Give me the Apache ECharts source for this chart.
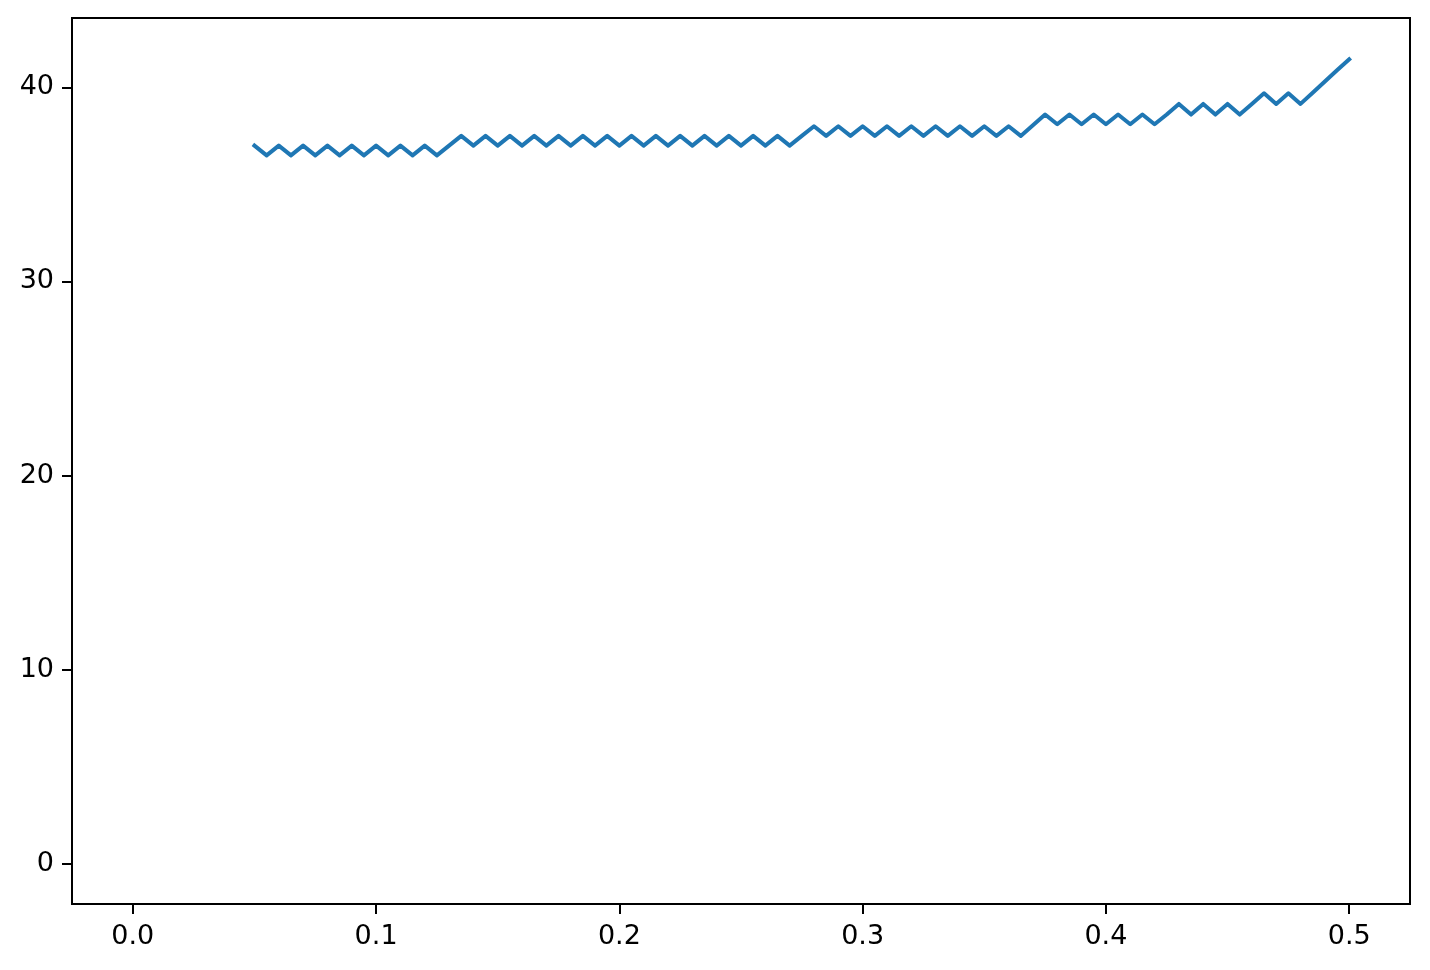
<!DOCTYPE html>
<html>
<head>
<meta charset="utf-8">
<script src="https://cdn.jsdelivr.net/npm/echarts@6/dist/echarts.min.js"></script>
<style>
html,body{margin:0;padding:0;background:#fff;}
#c{width:1430px;height:970px;}
</style>
</head>
<body>
<div id="c"></div>
<script>
const xValues = [
  0.050,0.055,0.060,0.065,0.070,0.075,0.080,0.085,0.090,0.095,
  0.100,0.105,0.110,0.115,0.120,0.125,0.130,0.135,0.140,0.145,
  0.150,0.155,0.160,0.165,0.170,0.175,0.180,0.185,0.190,0.195,
  0.200,0.205,0.210,0.215,0.220,0.225,0.230,0.235,0.240,0.245,
  0.250,0.255,0.260,0.265,0.270,0.275,0.280,0.285,0.290,0.295,
  0.300,0.305,0.310,0.315,0.320,0.325,0.330,0.335,0.340,0.345,
  0.350,0.355,0.360,0.365,0.370,0.375,0.380,0.385,0.390,0.395,
  0.400,0.405,0.410,0.415,0.420,0.425,0.430,0.435,0.440,0.445,
  0.450,0.455,0.460,0.465,0.470,0.475,0.480,0.485,0.490,0.495,
  0.500
];
const yValues = [
  37.0,36.5,37.0,36.5,37.0,36.5,37.0,36.5,37.0,36.5,
  37.0,36.5,37.0,36.5,37.0,36.5,37.0,37.5,37.0,37.5,
  37.0,37.5,37.0,37.5,37.0,37.5,37.0,37.5,37.0,37.5,
  37.0,37.5,37.0,37.5,37.0,37.5,37.0,37.5,37.0,37.5,
  37.0,37.5,37.0,37.5,37.0,37.5,38.0,37.5,38.0,37.5,
  38.0,37.5,38.0,37.5,38.0,37.5,38.0,37.5,38.0,37.5,
  38.0,37.5,38.0,37.5,38.05,38.6,38.1,38.6,38.1,38.6,
  38.1,38.6,38.1,38.6,38.1,38.6,39.15,38.6,39.15,38.6,
  39.15,38.6,39.15,39.7,39.15,39.7,39.15,39.72,40.3,40.88,
  41.45
];
const xTicks = [0.0,0.1,0.2,0.3,0.4,0.5];
const yTicks = [0,10,20,30,40];

const chart = echarts.init(document.getElementById('c'), null, {renderer:'canvas'});
const font = 'DejaVu Sans';
const tickStyle = {color:'#000',width:2};
chart.setOption({
  animation:false,
  backgroundColor:'#ffffff',
  grid:{left:72,right:20,top:18,bottom:66,show:true,borderColor:'#000',borderWidth:2,backgroundColor:'transparent'},
  xAxis:{
    type:'value',min:-0.025,max:0.525,
    axisLine:{show:true,onZero:false,lineStyle:{color:'#000',width:2}},
    splitLine:{show:false},
    axisTick:{show:true,inside:false,length:10,lineStyle:tickStyle,customValues:xTicks},
    axisLabel:{show:true,margin:19,fontFamily:font,fontSize:27,color:'#000',customValues:xTicks,
      formatter:v=>v.toFixed(1)}
  },
  yAxis:{
    type:'value',min:-2.075,max:43.575,
    axisLine:{show:true,onZero:false,lineStyle:{color:'#000',width:2}},
    splitLine:{show:false},
    axisTick:{show:true,inside:false,length:10,lineStyle:tickStyle,customValues:yTicks},
    axisLabel:{show:true,margin:18,fontFamily:font,fontSize:27,color:'#000',customValues:yTicks,
      formatter:v=>String(v)}
  },
  series:[{
    type:'line',
    data:xValues.map((x,i)=>[x,yValues[i]]),
    showSymbol:false,
    symbol:'none',
    lineStyle:{color:'#1f77b4',width:4,join:'round',cap:'square'},
    itemStyle:{color:'#1f77b4'}
  }]
});
</script>
</body>
</html>
